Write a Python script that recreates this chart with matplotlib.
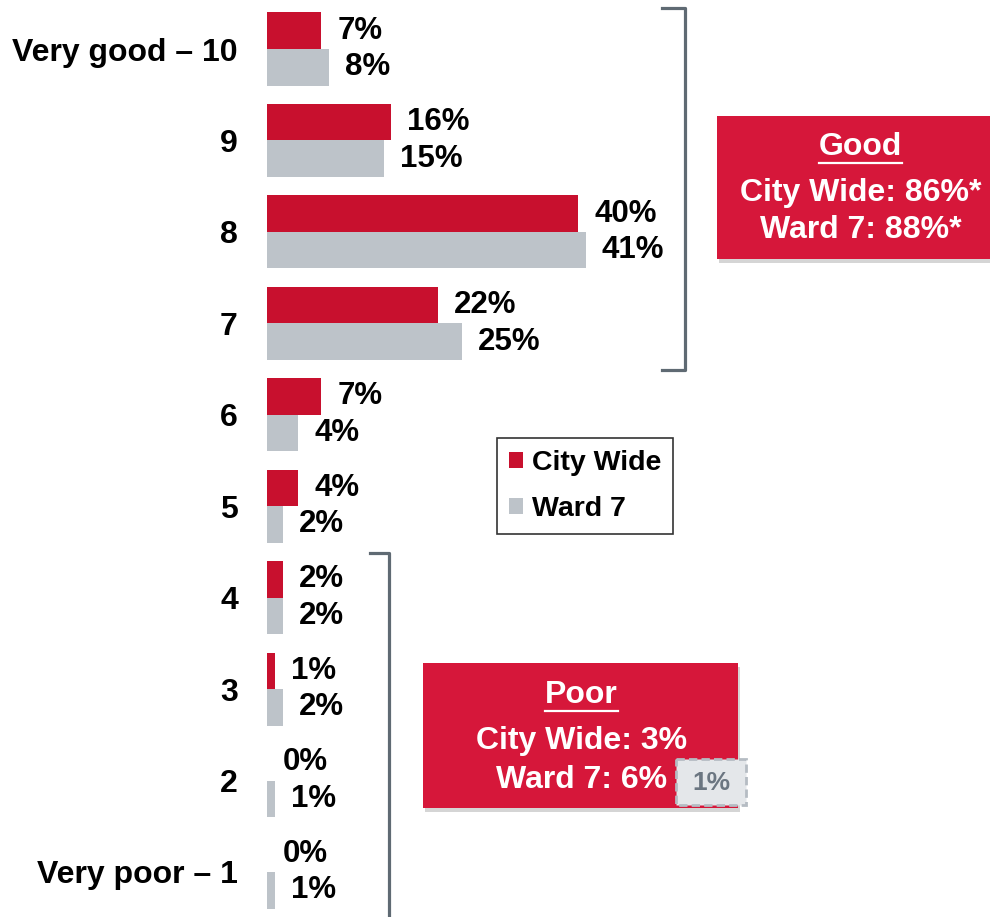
import matplotlib
matplotlib.use('Agg')
import matplotlib.pyplot as plt
from matplotlib.patches import Rectangle

plt.rcParams['font.family'] = ['Liberation Sans', 'DejaVu Sans']
plt.rcParams['font.weight'] = 'bold'

# данные
categories = ['Very good – 10', '9', '8', '7', '6', '5', '4', '3', '2', 'Very poor – 1']
city_wide = [7, 16, 40, 22, 7, 4, 2, 1, 0, 0]
ward_7 = [8, 15, 41, 25, 4, 2, 2, 2, 1, 1]

RED = '#C8102E'
BOX_RED = '#D6173A'
GREY = '#BDC3C9'
BRACKET = '#5F6A73'

fig = plt.figure(figsize=(9.9, 9.17), dpi=100)
ax = fig.add_axes([267 / 990, 0, 1 - 267 / 990, 1])
ax.set_xlim(0, (990 - 267) / 7.78)
ax.set_ylim((917 - 49) / 91.44, -49 / 91.44)

pos = list(range(len(categories)))
h = 0.4
ax.barh([p - h / 2 for p in pos], city_wide, height=h, color=RED, label='City Wide')
ax.barh([p + h / 2 for p in pos], ward_7, height=h, color=GREY, label='Ward 7')

# подписи значений
for p, c, w in zip(pos, city_wide, ward_7):
    ax.annotate(f'{c}%', (c, p - h / 2), xytext=(11.5, 0), textcoords='offset points',
                va='center', ha='left', fontsize=22.5, fontweight='bold')
    ax.annotate(f'{w}%', (w, p + h / 2), xytext=(11.5, 0), textcoords='offset points',
                va='center', ha='left', fontsize=22.5, fontweight='bold')

ax.set_yticks(pos)
ax.set_yticklabels(categories, fontsize=23, fontweight='bold')
ax.tick_params(axis='y', length=0, pad=21)
ax.get_xaxis().set_visible(False)
for s in ax.spines.values():
    s.set_visible(False)

# скобки
ax.plot([50.8, 53.7, 53.7, 50.8], [-0.448, -0.448, 3.51, 3.51], color=BRACKET, lw=2.3,
        solid_joinstyle='round', clip_on=False)
ax.plot([13.2, 15.7, 15.7], [5.51, 5.51, 9.7], color=BRACKET, lw=2.3,
        solid_joinstyle='round', clip_on=False)


def summary_box(x0, x1, y0, y1, title, lines, cx, ys):
    ax.add_patch(Rectangle((x0 + 0.3, y0 + 0.04), x1 - x0, y1 - y0, color='#888888',
                           alpha=0.35, lw=0, clip_on=False))
    ax.add_patch(Rectangle((x0, y0), x1 - x0, y1 - y0, color=BOX_RED, lw=0, clip_on=False))
    t = ax.text(cx, ys[0], title, color='white', fontsize=23, fontweight='bold',
                ha='center', va='center')
    for txt, y in zip(lines, ys[1:]):
        ax.text(cx, y, txt, color='white', fontsize=23, fontweight='bold',
                ha='center', va='center')
    return t


t_good = summary_box(57.8, 95, 0.733, 2.297, 'Good',
                     ['City Wide: 86%*', 'Ward 7: 88%*'], 76.3, [1.072, 1.575, 1.979])
t_poor = summary_box(20.05, 60.54, 6.715, 8.30, 'Poor',
                     ['City Wide: 3%', 'Ward 7: 6%'], 40.4, [7.065, 7.568, 7.994])

# маленькая пунктирная рамка
ax.add_patch(Rectangle((52.6, 7.765), 9.0, 0.503, facecolor='#E4E7EA', edgecolor='#B5BCC3',
                       lw=2, linestyle=(0, (3, 1.5)), clip_on=False))
ax.text(57.1, 8.03, '1%', color='#6B7681', fontsize=19, fontweight='bold',
        ha='center', va='center')

# подчёркивание заголовков
fig.canvas.draw()
inv = ax.transData.inverted()
for t in (t_good, t_poor):
    bb = t.get_window_extent()
    (xa, ya), (xb, yb) = inv.transform([(bb.x0, bb.y0), (bb.x1, bb.y0)])
    ax.plot([xa, xb], [ya + 0.01, yb + 0.01], color='white', lw=1.6)

leg = ax.legend(loc='upper left', bbox_to_anchor=(497 / 990, 1 - 438 / 917),
                bbox_transform=fig.transFigure, borderaxespad=0, fontsize=20.5,
                frameon=True, fancybox=False, edgecolor='black', handlelength=0.5,
                handleheight=0.5, handletextpad=0.3, labelspacing=0.72, borderpad=0.42)
leg.get_frame().set_linewidth(1.2)
for txt in leg.get_texts():
    txt.set_fontweight('bold')

plt.savefig('out.png', dpi=100)
